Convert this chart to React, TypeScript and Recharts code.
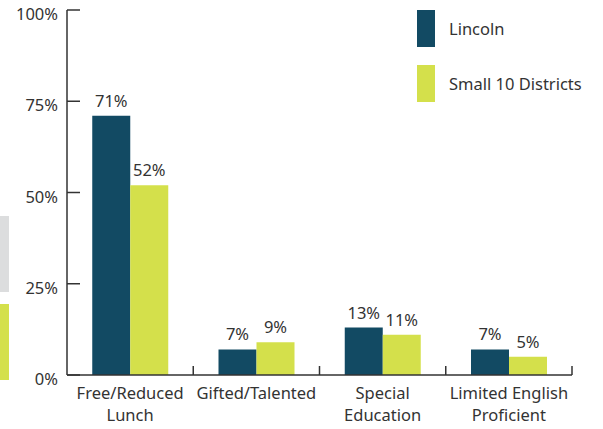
import { BarChart, Bar, XAxis, YAxis, LabelList } from 'recharts'

const categories = ['Free/Reduced Lunch', 'Gifted/Talented', 'Special Education', 'Limited English Proficient']
const categoryLines = [['Free/Reduced', 'Lunch'], ['Gifted/Talented'], ['Special', 'Education'], ['Limited English', 'Proficient']]
const lincoln = [71, 7, 13, 7]
const small10 = [52, 9, 11, 5]
const yTicks = [0, 25, 50, 75, 100]

const DARK = '#124a63'
const LIME = '#d4e04b'
const TEXT = '#333333'
const FONT = '"Noto Sans", sans-serif'
const FS = 16.5

const data = categories.map((name, i) => ({ name, lincoln: lincoln[i], small10: small10[i] }))

const W = 603
const H = 429
const PLOT_LEFT = 67
const PLOT_RIGHT = 572
const PLOT_BOTTOM = 375
const BAND = (PLOT_RIGHT - PLOT_LEFT) / categories.length

function CategoryTick(props: any) {
  const { x, payload, index } = props
  const lines: string[] = categoryLines[index] ?? [payload.value]
  return (
    <g>
      <line x1={x + BAND / 2} x2={x + BAND / 2} y1={PLOT_BOTTOM - 9} y2={PLOT_BOTTOM} stroke={TEXT} strokeWidth={1.5} />
      {lines.map((l, i) => (
        <text key={i} x={x} y={PLOT_BOTTOM + 24 + i * 22} textAnchor="middle" fill={TEXT} fontSize={FS} fontFamily={FONT}>
          {l}
        </text>
      ))}
    </g>
  )
}

function PercentTick(props: any) {
  const { y, payload } = props
  return (
    <g>
      <line x1={PLOT_LEFT} x2={PLOT_LEFT + 13} y1={y} y2={y} stroke={TEXT} strokeWidth={1.5} />
      <text x={PLOT_LEFT - 9} y={y + 10} textAnchor="end" fill={TEXT} fontSize={FS} fontFamily={FONT}>
        {`${payload.value}%`}
      </text>
    </g>
  )
}

const legendItems = [
  { label: 'Lincoln', color: DARK },
  { label: 'Small 10 Districts', color: LIME },
]

export default function App() {
  return (
    <div style={{ position: 'fixed', left: 0, top: 0, width: W, height: H, background: '#fff' }}>
      <div style={{ position: 'absolute', left: 0, top: 216, width: 9, height: 76, background: '#dcddde' }} />
      <div style={{ position: 'absolute', left: 0, top: 304, width: 9, height: 76, background: LIME }} />
      <BarChart
        width={W}
        height={H}
        data={data}
        margin={{ top: 10, right: W - PLOT_RIGHT, bottom: 0, left: 0 }}
        barCategoryGap="20%"
        barGap={0}
        style={{ position: 'absolute', left: 0, top: 0 }}
      >
        <XAxis
          dataKey="name"
          height={H - PLOT_BOTTOM}
          axisLine={{ stroke: TEXT, strokeWidth: 1.5 }}
          tickLine={false}
          interval={0}
          tick={<CategoryTick />}
        />
        <YAxis
          width={PLOT_LEFT}
          domain={[0, 100]}
          ticks={yTicks}
          axisLine={{ stroke: TEXT, strokeWidth: 1.5 }}
          tickLine={false}
          tick={<PercentTick />}
        />
        <Bar dataKey="lincoln" fill={DARK} isAnimationActive={false}>
          <LabelList dataKey="lincoln" position="top" offset={9} formatter={(v: any) => `${v}%`} fill={TEXT} fontSize={FS} fontFamily={FONT} />
        </Bar>
        <Bar dataKey="small10" fill={LIME} isAnimationActive={false}>
          <LabelList dataKey="small10" position="top" offset={9} formatter={(v: any) => `${v}%`} fill={TEXT} fontSize={FS} fontFamily={FONT} />
        </Bar>
      </BarChart>
      <div style={{ position: 'absolute', left: 417, top: 10 }}>
        {legendItems.map((it) => (
          <div key={it.label} style={{ display: 'flex', alignItems: 'center', height: 37, marginBottom: 18 }}>
            <div style={{ width: 18, height: 37, background: it.color }} />
            <span style={{ marginLeft: 14, fontSize: FS, color: TEXT, fontFamily: FONT }}>{it.label}</span>
          </div>
        ))}
      </div>
    </div>
  )
}
